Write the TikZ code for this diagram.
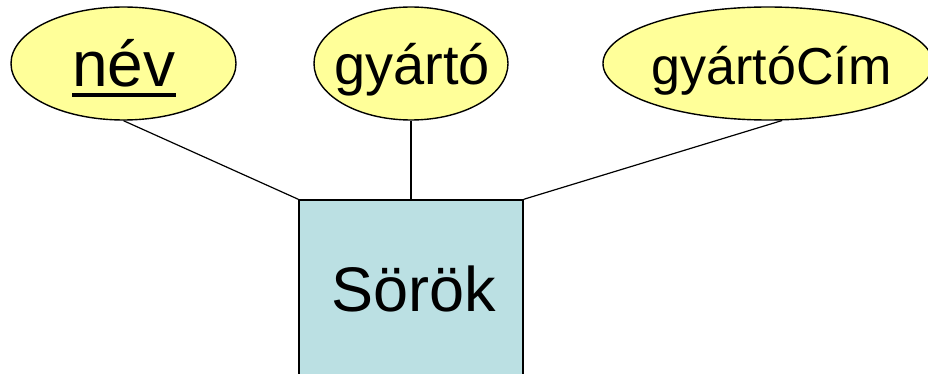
\documentclass[tikz,border=0pt]{standalone}
\usepackage{fontspec}
\setmainfont{Liberation Sans}
\usetikzlibrary{shapes.geometric}
\definecolor{attrfill}{HTML}{FFFF99}
\definecolor{entfill}{HTML}{BBE0E3}
\tikzset{
  attr/.style={draw=black, line width=1.4pt, fill=attrfill, ellipse, inner sep=0pt, minimum height=113pt},
  ent/.style={draw=black, line width=1.4pt, fill=entfill, rectangle, inner sep=0pt, minimum width=224pt, minimum height=180pt},
  lbl/.style={inner sep=0pt, anchor=base},
  conn/.style={draw=black, line width=1.2pt}
}
\begin{document}
\begin{tikzpicture}[x=1pt,y=-1pt]
\useasboundingbox (0,0) rectangle (928,374);
\clip (0,0) rectangle (928,374);
\node[attr, minimum width=225pt] (nev) at (123.5,63.5) {};
\node[attr, minimum width=194pt] (gyarto) at (411,63.5) {};
\node[attr, minimum width=330pt] (cim) at (768,63.5) {};
\node[ent] (sorok) at (411,290) {};
\node[lbl, font=\fontsize{64}{64}\selectfont] (nevtxt) at (124,86.7) {név};
\draw[line width=3.5pt] ([yshift=-8.3pt]nevtxt.base west) -- ([yshift=-8.3pt]nevtxt.base east);
\node[lbl, font=\fontsize{56}{56}\selectfont] (gyartotxt) at (412,85) {gyártó};
\node[lbl, font=\fontsize{52}{52}\selectfont] (cimtxt) at (771.5,85) {gyártóCím};
\node[lbl, font=\fontsize{63}{63}\selectfont] (soroktxt) at (414,311.7) {Sörök};
\draw[conn] (nev.south) -- (sorok.north west);
\draw[conn] (gyarto.south) -- (sorok.north);
\draw[conn] (cim.-76) -- (sorok.north east);
\end{tikzpicture}
\end{document}
